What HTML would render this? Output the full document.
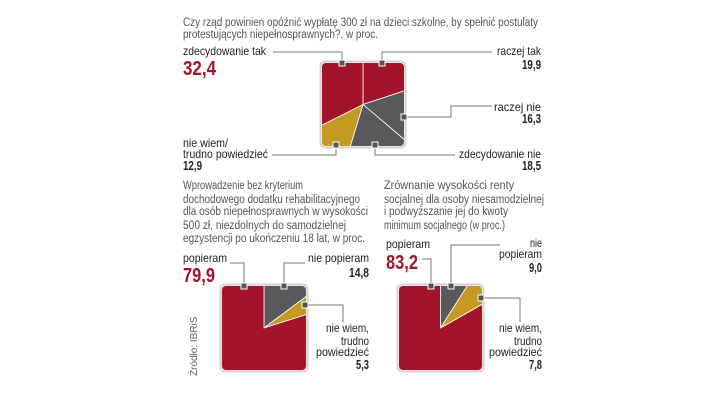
<!DOCTYPE html>
<html><head><meta charset="utf-8">
<style>
html,body{margin:0;padding:0;background:#fff;}
svg{display:block;}
text{font-family:"Liberation Sans",sans-serif;}
.t{font-size:11.5px;fill:#555;}
.l{font-size:12px;fill:#222;}
.n{font-weight:bold;font-size:13px;fill:#222;}
.big{font-weight:bold;font-size:20px;fill:#a3132a;}
.ld{stroke:#777;stroke-width:1;fill:none;}
.mk{fill:#555;stroke:#fff;stroke-width:1;}
</style></head>
<body>
<svg id="c" width="720" height="405" viewBox="0 0 720 405" xmlns="http://www.w3.org/2000/svg">
<text class="t" x="183" y="26" textLength="355" lengthAdjust="spacingAndGlyphs">Czy rząd powinien opóźnić wypłatę 300 zł na dzieci szkolne, by spełnić postulaty</text>
<text class="t" x="183" y="38" textLength="195" lengthAdjust="spacingAndGlyphs">protestujących niepełnosprawnych?, w proc.</text>

<g>
<text class="l" x="183" y="55" textLength="83" lengthAdjust="spacingAndGlyphs">zdecydowanie tak</text>
<text class="big" x="183" y="75" textLength="33" lengthAdjust="spacingAndGlyphs">32,4</text>
<text class="l" x="497" y="55" textLength="44" lengthAdjust="spacingAndGlyphs">raczej tak</text>
<text class="n" x="522" y="69" textLength="19" lengthAdjust="spacingAndGlyphs">19,9</text>
<text class="l" x="494" y="111" textLength="47" lengthAdjust="spacingAndGlyphs">raczej nie</text>
<text class="n" x="522" y="123" textLength="19" lengthAdjust="spacingAndGlyphs">16,3</text>
<text class="l" x="183" y="147" textLength="45" lengthAdjust="spacingAndGlyphs">nie wiem/</text>
<text class="l" x="183" y="158" textLength="85" lengthAdjust="spacingAndGlyphs">trudno powiedzieć</text>
<text class="n" x="183" y="170" textLength="19" lengthAdjust="spacingAndGlyphs">12,9</text>
<text class="l" x="459" y="158" textLength="82" lengthAdjust="spacingAndGlyphs">zdecydowanie nie</text>
<text class="n" x="522" y="170" textLength="19" lengthAdjust="spacingAndGlyphs">18,5</text>
<path class="ld" d="M273 52H342V63 M382 63V52H492 M404 117H451V106H492 M336 145V155H272 M375 145V155H455"/>
</g>

<g>
<text class="t" x="183" y="189" textLength="120" lengthAdjust="spacingAndGlyphs">Wprowadzenie bez kryterium</text>
<text class="t" x="183" y="203" textLength="177" lengthAdjust="spacingAndGlyphs">dochodowego dodatku rehabilitacyjnego</text>
<text class="t" x="183" y="215" textLength="185" lengthAdjust="spacingAndGlyphs">dla osób niepełnosprawnych w wysokości</text>
<text class="t" x="183" y="229" textLength="163" lengthAdjust="spacingAndGlyphs">500 zł, niezdolnych do samodzielnej</text>
<text class="t" x="183" y="242" textLength="182" lengthAdjust="spacingAndGlyphs">egzystencji po ukończeniu 18 lat, w proc.</text>
<text class="l" x="183" y="262" textLength="44" lengthAdjust="spacingAndGlyphs">popieram</text>
<text class="big" x="183" y="282" textLength="32" lengthAdjust="spacingAndGlyphs">79,9</text>
<text class="l" x="308" y="262" textLength="61" lengthAdjust="spacingAndGlyphs">nie popieram</text>
<text class="n" x="349" y="277" textLength="20" lengthAdjust="spacingAndGlyphs">14,8</text>
<text class="l" x="326" y="332" textLength="43" lengthAdjust="spacingAndGlyphs">nie wiem,</text>
<text class="l" x="341" y="345" textLength="28" lengthAdjust="spacingAndGlyphs">trudno</text>
<text class="l" x="316" y="356" textLength="53" lengthAdjust="spacingAndGlyphs">powiedzieć</text>
<text class="n" x="356" y="369" textLength="13" lengthAdjust="spacingAndGlyphs">5,3</text>
<path class="ld" d="M244 286V263H230 M284 286V263H305 M305 305H343V322"/>
</g>

<g>
<text class="t" x="384" y="189" textLength="130" lengthAdjust="spacingAndGlyphs">Zrównanie wysokości renty</text>
<text class="t" x="384" y="203" textLength="160" lengthAdjust="spacingAndGlyphs">socjalnej dla osoby niesamodzielnej</text>
<text class="t" x="384" y="215" textLength="124" lengthAdjust="spacingAndGlyphs">i podwyższanie jej do kwoty</text>
<text class="t" x="384" y="229" textLength="121" lengthAdjust="spacingAndGlyphs">minimum socjalnego (w proc.)</text>
<text class="l" x="386" y="248" textLength="44" lengthAdjust="spacingAndGlyphs">popieram</text>
<text class="big" x="386" y="269" textLength="32" lengthAdjust="spacingAndGlyphs">83,2</text>
<text class="l" x="530" y="247" textLength="12" lengthAdjust="spacingAndGlyphs">nie</text>
<text class="l" x="499" y="258" textLength="43" lengthAdjust="spacingAndGlyphs">popieram</text>
<text class="n" x="529" y="272" textLength="13" lengthAdjust="spacingAndGlyphs">9,0</text>
<text class="l" x="499" y="332" textLength="43" lengthAdjust="spacingAndGlyphs">nie wiem,</text>
<text class="l" x="514" y="345" textLength="28" lengthAdjust="spacingAndGlyphs">trudno</text>
<text class="l" x="489" y="356" textLength="53" lengthAdjust="spacingAndGlyphs">powiedzieć</text>
<text class="n" x="529" y="369" textLength="13" lengthAdjust="spacingAndGlyphs">7,8</text>
<path class="ld" d="M431 286V259H422 M451 286V245H500 M481 298H520V322"/>
</g>

<text x="0" y="0" transform="translate(197,376) rotate(-90)" style="font-size:10px;fill:#666">Źródło: IBRiS</text>
<g id="pies"></g>
<g id="marks"></g>
</svg>
<script>
const topCategories = ["raczej tak","raczej nie","zdecydowanie nie","nie wiem/trudno powiedzieć","zdecydowanie tak"];
const topValues = [19.9,16.3,18.5,12.9,32.4];
const blCategories = ["nie popieram","nie wiem, trudno powiedzieć","popieram"];
const blValues = [14.8,5.3,79.9];
const brCategories = ["nie popieram","nie wiem, trudno powiedzieć","popieram"];
const brValues = [9.0,7.8,83.2];
const topColors=["#a3132a","#59595b","#59595b","#c49a22","#a3132a"];
const botColors=["#59595b","#c49a22","#a3132a"];
const NS="http://www.w3.org/2000/svg";
const pies=document.getElementById('pies');
function drawPie(id,x0,y0,w,h,cats,vals,cols){
  const g=document.createElementNS(NS,'g');
  
  
  const cp=document.createElementNS(NS,'clipPath');cp.setAttribute('id',id+'-clip');
  const cr=document.createElementNS(NS,'rect');
  cr.setAttribute('x',x0);cr.setAttribute('y',y0);cr.setAttribute('width',w);cr.setAttribute('height',h);cr.setAttribute('rx',4);
  cp.appendChild(cr);g.appendChild(cp);
  const bg=document.createElementNS(NS,'rect');
  bg.setAttribute('x',x0-1.5);bg.setAttribute('y',y0-1.5);bg.setAttribute('width',w+3);bg.setAttribute('height',h+3);bg.setAttribute('rx',5);
  bg.setAttribute('fill','none');bg.setAttribute('stroke','#d8d0d0');bg.setAttribute('stroke-width','2');
  g.appendChild(bg);
  const inner=document.createElementNS(NS,'g');inner.setAttribute('clip-path','url(#'+id+'-clip)');
  const cx=x0+w/2,cy=y0+h/2,R=w;
  const tot=vals.reduce((a,b)=>a+b,0);
  let a=0;
  vals.forEach((v,i)=>{
    const a0=a/tot*2*Math.PI,a1=(a+v)/tot*2*Math.PI;a+=v;
    const p=document.createElementNS(NS,'path');
    const x1=cx+R*Math.sin(a0),y1=cy-R*Math.cos(a0),x2=cx+R*Math.sin(a1),y2=cy-R*Math.cos(a1);
    p.setAttribute('d',`M${cx} ${cy}L${x1} ${y1}A${R} ${R} 0 ${a1-a0>Math.PI?1:0} 1 ${x2} ${y2}Z`);
    p.setAttribute('fill',cols[i]);p.setAttribute('stroke','#fff');p.setAttribute('stroke-width','0.8');
    
    
    inner.appendChild(p);
  });
  g.appendChild(inner);pies.appendChild(g);
}
drawPie('pie-top',322,63,82,83,topCategories,topValues,topColors);
drawPie('pie-bottom-left',222,286,84,84,blCategories,blValues,botColors);
drawPie('pie-bottom-right',399,286,83,84,brCategories,brValues,botColors);
const marks=document.getElementById('marks');
[[342,63],[382,63],[404,117],[336,145],[375,145],[244,286],[284,286],[305,305],[431,286],[451,286],[481,298]].forEach(m=>{
  const r=document.createElementNS(NS,'rect');
  r.setAttribute('x',m[0]-3);r.setAttribute('y',m[1]-3);r.setAttribute('width',6);r.setAttribute('height',6);
  r.setAttribute('class','mk');
  
  
  marks.appendChild(r);
});
</script>
</body></html>
